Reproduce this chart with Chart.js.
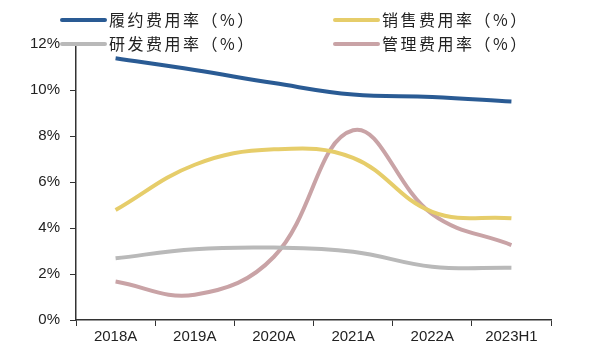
<!DOCTYPE html>
<html>
<head>
<meta charset="utf-8">
<script src="https://cdn.jsdelivr.net/npm/chart.js@4/dist/chart.umd.min.js"></script>
<style>
html,body{margin:0;padding:0;background:#fff;}
#wrap{width:600px;height:357px;position:relative;}
</style>
</head>
<body>
<div id="wrap"><canvas id="c" width="600" height="357"></canvas></div>
<script>
const categories = ['2018A','2019A','2020A','2021A','2022A','2023H1'];
const fulfillment = [11.38, 10.87, 10.3, 9.8, 9.7, 9.5];
const sales = [4.78, 6.75, 7.42, 7.05, 4.7, 4.42];
const rnd = [2.68, 3.08, 3.15, 2.97, 2.32, 2.27];
const admin = [1.67, 1.1, 2.75, 8.25, 4.6, 3.26];
const seriesLabels = ['履约费用率（%）','销售费用率（%）','研发费用率（%）','管理费用率（%）'];
const yTicks = [0, 2, 4, 6, 8, 10, 12];

const colors = ['#2a5b94', '#e6cd6a', '#b9b9b9', '#c9a3a6'];
const legendPos = [[62, 20], [335, 20], [62, 44], [335, 44]];

const legendPlugin = {
  id: 'customLegend',
  afterDraw(chart) {
    const ctx = chart.ctx;
    ctx.save();
    chart.data.datasets.forEach((ds, i) => {
      const [x, y] = legendPos[i];
      ctx.strokeStyle = ds.borderColor;
      ctx.lineWidth = 4;
      ctx.lineCap = 'round';
      ctx.beginPath();
      ctx.moveTo(x, y);
      ctx.lineTo(x + 43, y);
      ctx.stroke();
      ctx.fillStyle = '#222';
      ctx.font = '16px "Noto Sans CJK SC"';
      if ('letterSpacing' in ctx) ctx.letterSpacing = '2.5px';
      ctx.textBaseline = 'middle';
      ctx.textAlign = 'left';
      ctx.fillText(ds.label, x + 47, y);
    });
    ctx.restore();
  }
};

const mk = (label, data, color) => ({
  label, data, borderColor: color, backgroundColor: color,
  borderWidth: 4, pointRadius: 0, tension: 0.4, fill: false
});

new Chart(document.getElementById('c'), {
  type: 'line',
  data: {
    labels: categories,
    datasets: [
      mk(seriesLabels[0], fulfillment, colors[0]),
      mk(seriesLabels[1], sales, colors[1]),
      mk(seriesLabels[2], rnd, colors[2]),
      mk(seriesLabels[3], admin, colors[3])
    ]
  },
  options: {
    responsive: false,
    animation: false,
    layout: { padding: { top: 44, right: 49, left: 0, bottom: 0 } },
    plugins: { legend: { display: false }, tooltip: { enabled: false } },
    scales: {
      x: {
        offset: true,
        grid: { display: true, drawOnChartArea: false, offset: true, tickLength: 6, color: '#333' },
        border: { color: '#333', width: 1.5 },
        ticks: { color: '#222', font: { family: 'Liberation Sans, Arial', size: 15 }, padding: 2 },
        afterFit(s) { s.height = 37; }
      },
      y: {
        min: 0, max: 12,
        afterBuildTicks(s) { s.ticks = yTicks.map(v => ({ value: v })); },
        grid: { display: true, drawOnChartArea: false, tickLength: 6, color: '#333' },
        border: { color: '#333', width: 1.5 },
        ticks: { color: '#222', font: { family: 'Liberation Sans, Arial', size: 15 }, padding: 10,
          callback: v => v + '%' },
        afterFit(s) { s.width = 76; }
      }
    }
  },
  plugins: [legendPlugin]
});
</script>
</body>
</html>
